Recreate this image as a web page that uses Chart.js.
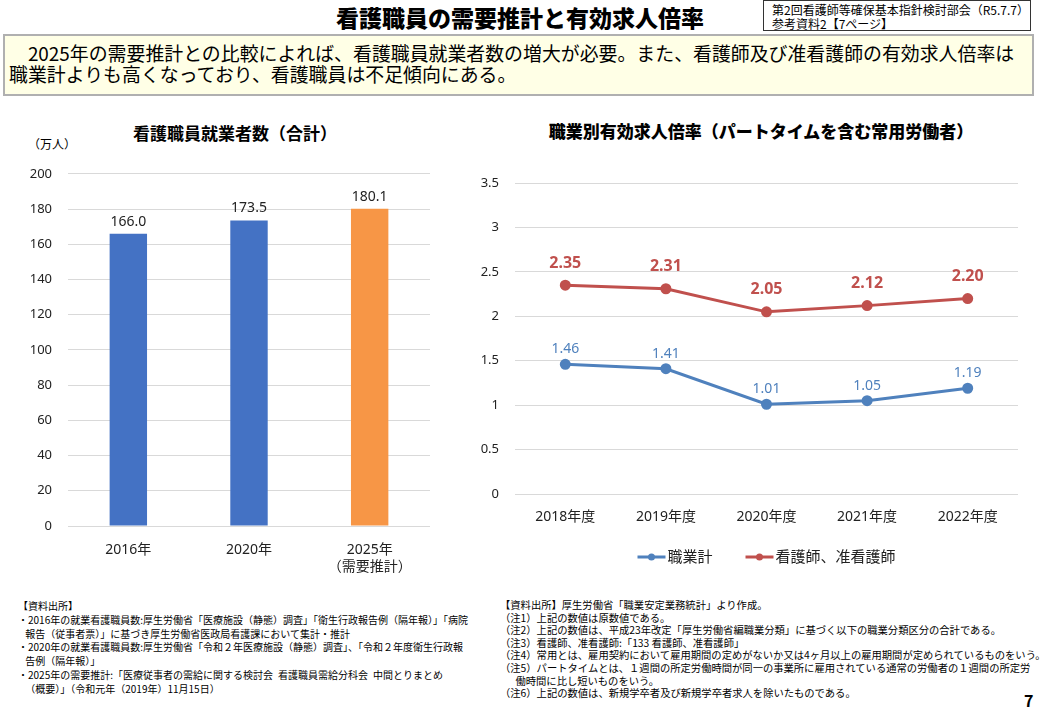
<!DOCTYPE html>
<html lang="ja">
<head>
<meta charset="utf-8">
<script src="https://cdn.jsdelivr.net/npm/chart.js@4/dist/chart.umd.min.js"></script>
<style>
    body { margin: 0; width: 1040px; height: 715px; background: #fff; position: relative; overflow: hidden;
        font-family: "Noto Sans CJK JP", "Noto Sans", sans-serif; color: #000; }
    .abs { position: absolute; white-space: nowrap; }
    #title { left: 0; width: 1040px; top: 1px; text-align: center; font-size: 23px; font-weight: 900; line-height: 32px; }
    #meta { left: 763px; top: 0; width: 268px; height: 31px; border: 1px solid #333; font-size: 12px; line-height: 14px; padding: 2px 0 0 8px; box-sizing: border-box; }
    #summary { left: 3px; top: 34px; width: 1031px; height: 62px; border: 2px solid #b0b0b0; background: #ffffe6; box-sizing: border-box;
        font-size: 18.9px; line-height: 21px; padding: 6px 0 0 4px; }
    .ctitle { font-size: 17px; font-weight: 700; text-align: center; }
    .notes { font-size: 10px; line-height: 13.8px; }
    .notes2 { font-size: 10.3px; line-height: 12.6px; }
    canvas { display: block; }
</style>
</head>
<body>
<div id="title" class="abs">看護職員の需要推計と有効求人倍率</div>
<div id="meta" class="abs">第2回看護師等確保基本指針検討部会（R5.7.7）<br>参考資料2【7ページ】</div>
<div id="summary" class="abs">&emsp;2025年の需要推計との比較によれば、看護職員就業者数の増大が必要。また、看護師及び准看護師の有効求人倍率は<br>職業計よりも高くなっており、看護職員は不足傾向にある。</div>

<div class="abs ctitle" style="left:100px;top:120px;width:270px;">看護職員就業者数（合計）</div>
<div class="abs" style="left:28px;top:135px;font-size:12px;">（万人）</div>
<div class="abs ctitle" style="left:501px;top:118px;width:520px;font-size:17px;font-weight:900;">職業別有効求人倍率（パートタイムを含む常用労働者）</div>

<div class="abs" style="left:10px;top:150px;width:440px;height:440px;"><canvas id="barChart"></canvas></div>
<div class="abs" style="left:470px;top:150px;width:555px;height:430px;"><canvas id="lineChart"></canvas></div>

<div class="abs notes" style="left:18px;top:599px;">
【資料出所】<br>
・2016年の就業看護職員数:厚生労働省「医療施設（静態）調査」「衛生行政報告例（隔年報）」「病院<br>
&ensp;&nbsp;報告（従事者票）」に基づき厚生労働省医政局看護課において集計・推計<br>
・2020年の就業看護職員数:厚生労働省「令和２年医療施設（静態）調査」、「令和２年度衛生行政報<br>
&ensp;&nbsp;告例（隔年報）」<br>
・2025年の需要推計:「医療従事者の需給に関する検討会&ensp;看護職員需給分科会&ensp;中間とりまとめ<br>
&ensp;&nbsp;（概要）」（令和元年（2019年）11月15日）
</div>
<div class="abs notes2" style="left:500px;top:599px;">
【資料出所】厚生労働省「職業安定業務統計」より作成。<br>
（注1）上記の数値は原数値である。<br>
（注2）上記の数値は、平成23年改定「厚生労働省編職業分類」に基づく以下の職業分類区分の合計である。<br>
（注3）看護師、准看護師:「133 看護師、准看護師」<br>
（注4）常用とは、雇用契約において雇用期間の定めがないか又は4ヶ月以上の雇用期間が定められているものをいう。<br>
（注5）パートタイムとは、１週間の所定労働時間が同一の事業所に雇用されている通常の労働者の１週間の所定労<br>
&emsp;&ensp;働時間に比し短いものをいう。<br>
（注6）上記の数値は、新規学卒者及び新規学卒者求人を除いたものである。
</div>
<div class="abs" style="left:1024px;top:688px;font-size:16px;font-weight:700;">7</div>

<script>
// 看護職員就業者数（万人）
var barLabels = [['2016年'], ['2020年'], ['2025年', '（需要推計）']];
var barValues = [166.0, 173.5, 180.1];
var barTicks = { min: 0, max: 200, step: 20 };

// 有効求人倍率
var lineLabels = ['2018年度', '2019年度', '2020年度', '2021年度', '2022年度'];
var allJobs = [1.46, 1.41, 1.01, 1.05, 1.19];
var nurses = [2.35, 2.31, 2.05, 2.12, 2.20];
var lineTicks = { min: 0, max: 3.5, step: 0.5 };

var FONT = '"Noto Sans", "Noto Sans CJK JP", sans-serif';
var GRID = '#d9d9d9';
var BLUE = '#4472C4', ORANGE = '#F79646';
var LBLUE = '#4F81BD', LRED = '#C0504D';

Chart.defaults.font.family = FONT;
Chart.defaults.color = '#222';
Chart.defaults.animation = false;

// 値ラベルを描く
var valueLabels = {
    id: 'valueLabels',
    afterDatasetsDraw: function (chart) {
        var ctx = chart.ctx;
        chart.data.datasets.forEach(function (ds, i) {
            var st = ds.valueLabel;
            if (!st) return;
            var meta = chart.getDatasetMeta(i);
            meta.data.forEach(function (el, j) {
                ctx.save();
                ctx.font = st.font;
                ctx.fillStyle = st.color;
                ctx.textAlign = 'center';
                ctx.textBaseline = 'bottom';
                ctx.fillText(ds.data[j].toFixed(st.digits), el.x, el.y - st.offset);
                ctx.restore();
            });
        });
    }
};

// 線+マーカーの凡例
var lineLegend = {
    id: 'lineLegend',
    afterDraw: function (chart) {
        var ctx = chart.ctx;
        var y = 407;
        var lineW = 28, gap = 2, between = 33;
        ctx.save();
        ctx.font = '15px ' + FONT;
        var widths = chart.data.datasets.map(function (ds) { return lineW + gap + ctx.measureText(ds.label).width; });
        var total = widths.reduce(function (a, b) { return a + b; }, 0) + between * (widths.length - 1);
        var x = (chart.chartArea.left + chart.chartArea.right) / 2 - total / 2;
        chart.data.datasets.forEach(function (ds, i) {
            ctx.strokeStyle = ds.borderColor;
            ctx.lineWidth = 3;
            ctx.beginPath();
            ctx.moveTo(x, y);
            ctx.lineTo(x + lineW, y);
            ctx.stroke();
            ctx.fillStyle = ds.borderColor;
            ctx.beginPath();
            ctx.arc(x + lineW / 2, y, 3.5, 0, Math.PI * 2);
            ctx.fill();
            ctx.fillStyle = '#222';
            ctx.textAlign = 'left';
            ctx.textBaseline = 'middle';
            ctx.fillText(ds.label, x + lineW + gap, y + 1);
            x += widths[i] + between;
        });
        ctx.restore();
    }
};

new Chart(document.getElementById('barChart'), {
    type: 'bar',
    data: {
        labels: barLabels,
        datasets: [{
            data: barValues,
            backgroundColor: [BLUE, BLUE, ORANGE],
            categoryPercentage: 1,
            barPercentage: 0.31,
            valueLabel: { font: '14px ' + FONT, color: '#222', digits: 1, offset: 5 }
        }]
    },
    options: {
        responsive: true,
        maintainAspectRatio: false,
        layout: { padding: { top: 22, right: 20, left: 0, bottom: 0 } },
        plugins: { legend: { display: false }, tooltip: { enabled: false } },
        scales: {
            x: {
                grid: { display: false },
                border: { display: false },
                ticks: { font: { size: 14 }, color: '#222', padding: 8 },
                afterFit: function (s) { s.height = 64; }
            },
            y: {
                min: barTicks.min, max: barTicks.max,
                ticks: { stepSize: barTicks.step, font: { size: 13 }, color: '#222', padding: 16 },
                grid: { color: GRID, drawTicks: false },
                border: { display: false },
                afterFit: function (s) { s.width = 58; }
            }
        }
    },
    plugins: [valueLabels]
});

new Chart(document.getElementById('lineChart'), {
    type: 'line',
    data: {
        labels: lineLabels,
        datasets: [{
            label: '職業計',
            data: allJobs,
            borderColor: LBLUE,
            backgroundColor: LBLUE,
            borderWidth: 3,
            pointRadius: 4,
            valueLabel: { font: '14px ' + FONT, color: LBLUE, digits: 2, offset: 8 }
        }, {
            label: '看護師、准看護師',
            data: nurses,
            borderColor: LRED,
            backgroundColor: LRED,
            borderWidth: 3,
            pointRadius: 4,
            valueLabel: { font: 'bold 16px ' + FONT, color: LRED, digits: 2, offset: 14 }
        }]
    },
    options: {
        responsive: true,
        maintainAspectRatio: false,
        layout: { padding: { top: 33, right: 5, left: 0, bottom: 0 } },
        plugins: { legend: { display: false }, tooltip: { enabled: false } },
        scales: {
            x: {
                offset: true,
                grid: { display: false },
                border: { display: false },
                ticks: { font: { size: 14 }, color: '#222', padding: 7 },
                afterFit: function (s) { s.height = 86; }
            },
            y: {
                min: lineTicks.min, max: lineTicks.max,
                ticks: {
                    stepSize: lineTicks.step, font: { size: 13 }, color: '#222', padding: 16,
                    callback: function (v) { return String(Math.round(v * 10) / 10); }
                },
                grid: { color: GRID, drawTicks: false },
                border: { display: false },
                afterFit: function (s) { s.width = 45; }
            }
        }
    },
    plugins: [valueLabels, lineLegend]
});
</script>
</body>
</html>
